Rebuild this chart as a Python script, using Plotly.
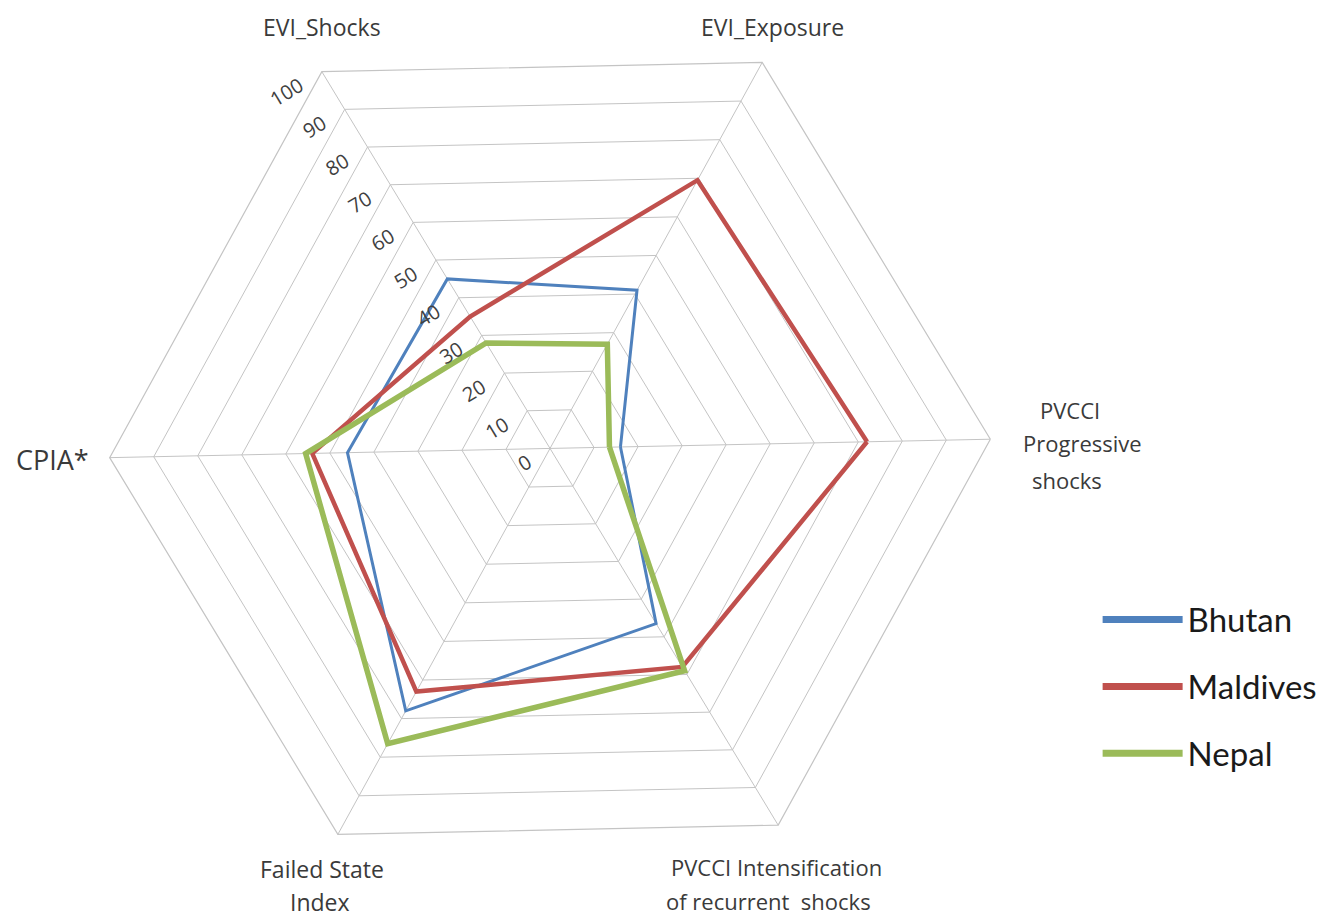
import plotly.graph_objects as go

categories = ["PVCCI Progressive shocks", "EVI_Exposure", "EVI_Shocks", "CPIA*",
              "Failed State Index", "PVCCI Intensification of recurrent shocks"]
bhutan = [16, 41, 45, 46, 68, 46.5]
maldives = [72, 69.5, 35, 54, 63, 58]
nepal = [13.5, 27, 28, 55.5, 76.5, 59]
radial_ticks = [0, 10, 20, 30, 40, 50, 60, 70, 80, 90, 100]

series = [("Bhutan", bhutan, "#4F81BD", 3), ("Maldives", maldives, "#C0504D", 4.5),
          ("Nepal", nepal, "#9BBB59", 5.5)]

W, H, OFF = 1328, 919, 8  # page offset of the figure div (body margin)


def px(x):
    return (x - OFF) / W


def py(y):
    return 1 - (y - OFF) / H


fig = go.Figure()
for name, vals, color, w in series:
    fig.add_trace(go.Scatterpolar(
        r=vals + vals[:1], theta=categories + categories[:1], mode="lines",
        name=name, line=dict(color=color, width=w), showlegend=False,
        hoverinfo="skip"))
for name, vals, color, w in series:
    fig.add_trace(go.Scatterpolar(
        r=[None], theta=[None], mode="lines", name=name, legendgroup=name,
        line=dict(color=color, width=7), showlegend=True))

rot = 1.2
grid = "#c4c4c4"
fig.update_layout(
    width=W, height=H,
    margin=dict(l=0, r=0, t=0, b=0),
    paper_bgcolor="white", plot_bgcolor="white",
    polar=dict(
        domain=dict(x=[0.0752, 0.7411], y=[0.0415, 1.0]),
        gridshape="linear",
        bgcolor="white",
        angularaxis=dict(type="category", direction="counterclockwise", rotation=rot,
                         showticklabels=False, ticks="", gridcolor=grid, gridwidth=1.2,
                         linecolor=grid, linewidth=1.2, showline=True),
        radialaxis=dict(range=[0, 100], tickvals=radial_ticks, angle=120 + rot,
                        side="counterclockwise", tickangle=90, showline=False,
                        ticks="outside", ticklen=16, tickcolor="rgba(0,0,0,0)",
                        gridcolor=grid, gridwidth=1.2,
                        tickfont=dict(family="Open Sans", size=20, color="#404040")),
    ),
    legend=dict(x=0.8205, y=0.365, xanchor="left", yanchor="top",
                font=dict(family="Lato", size=33, color="#1a1a1a"),
                itemwidth=80, tracegroupgap=21, traceorder="grouped",
                bgcolor="rgba(0,0,0,0)"),
    font=dict(family="Open Sans", color="#3a3a3a"),
)

labels = [
    ("EVI_Shocks", 322, 27, 23),
    ("EVI_Exposure", 773, 27, 23),
    ("PVCCI", 1070, 410, 22),
    ("Progressive", 1082, 443, 22),
    ("shocks", 1067, 480, 22),
    ("CPIA*", 52, 459, 27),
    ("Failed State", 322, 869, 23),
    ("Index", 320, 902, 23),
    ("PVCCI Intensification", 776, 867, 22),
    ("of recurrent  shocks", 768, 901, 22),
]
for text, x, y, s in labels:
    fig.add_annotation(text=text, x=px(x), y=py(y), xref="paper", yref="paper",
                       showarrow=False, xanchor="center", yanchor="middle",
                       font=dict(family="Open Sans", size=s, color="#3a3a3a"))

fig.write_html("out.html")
